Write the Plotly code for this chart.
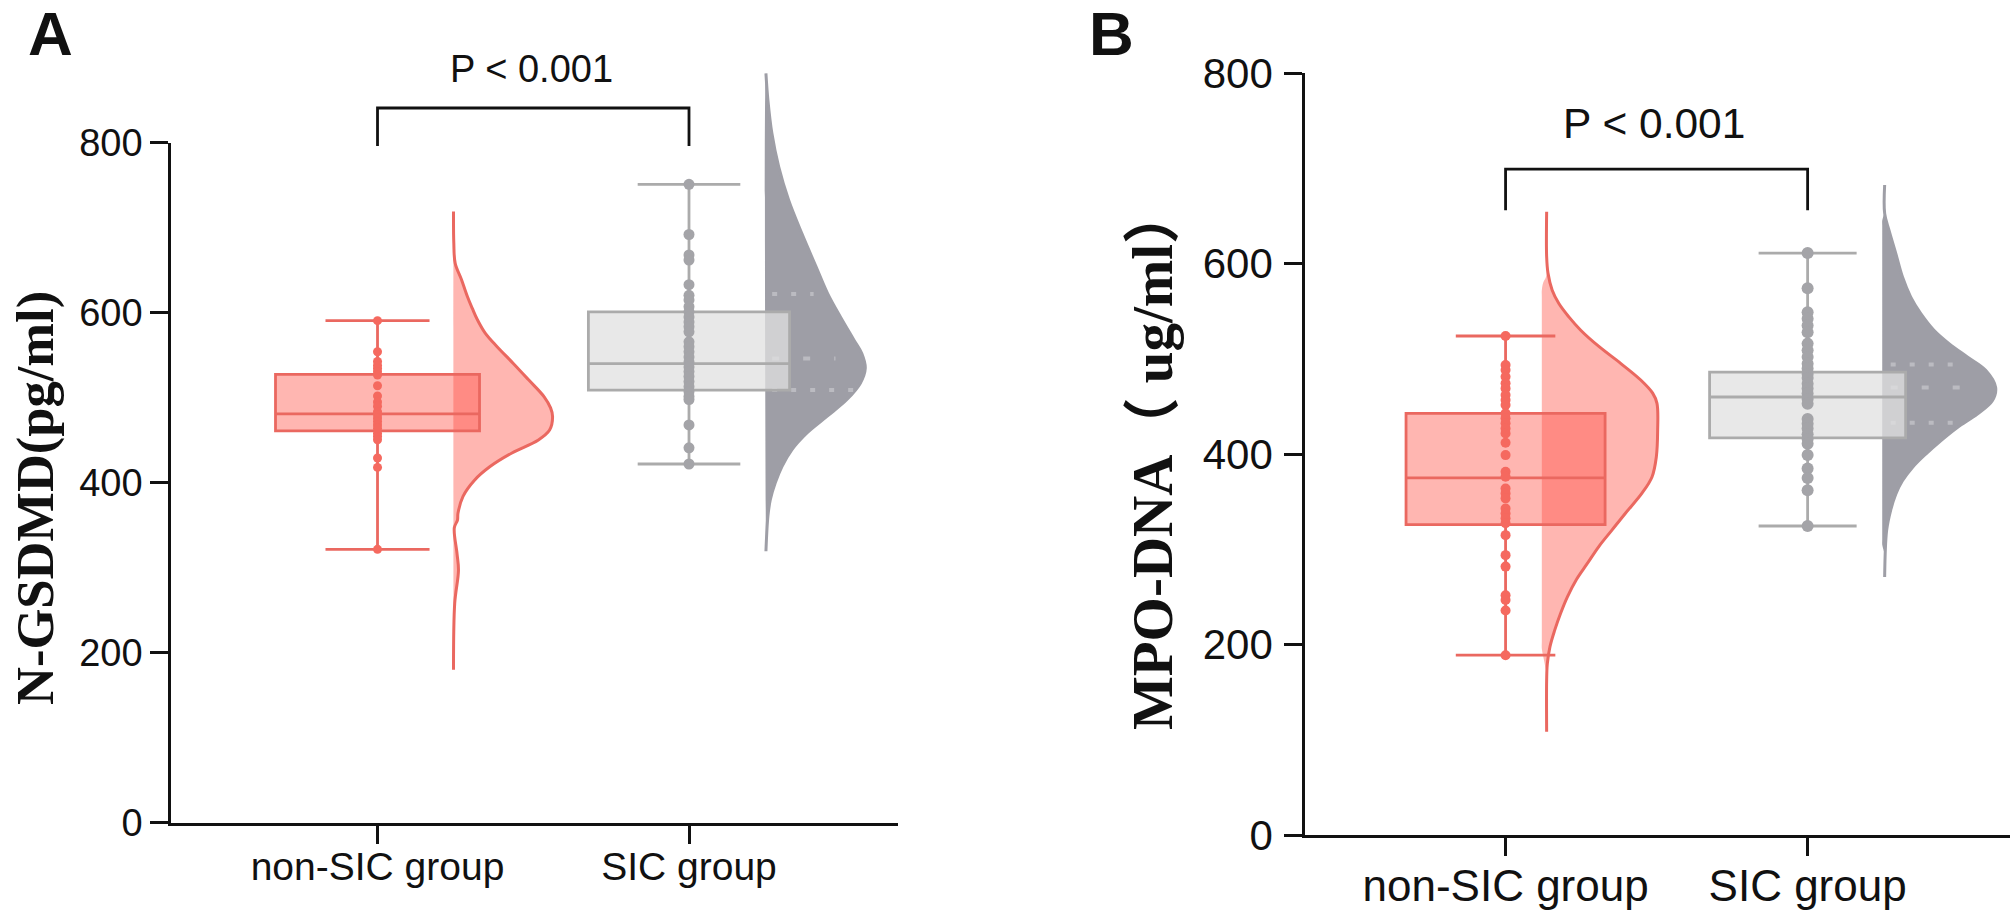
import plotly.graph_objects as go

W, H = 2016, 914
GROUPS = ["non-SIC group", "SIC group"]
Y_TICKS = [0, 200, 400, 600, 800]

# ---------- Panel A: N-GSDMD ----------
A_RED_BOX = dict(low=321.6, q1=461, med=481, q3=527.5, high=590.6)
A_GRAY_BOX = dict(low=422, q1=509, med=540, q3=601, high=751)
A_RED_POINTS = [590.6, 554, 542.7, 538, 534.5, 530.6, 526.7, 514, 502, 495, 490, 483.5, 480, 476, 472, 468, 464,
                458, 454.5, 450.5, 429, 418, 321.6]
A_GRAY_POINTS = [751, 692, 668, 662, 633, 620.5, 615, 607, 601, 595, 589, 583.5, 577.5, 565.8, 560, 554, 548, 542,
                 536, 530.7, 525, 519, 513, 507, 501.5, 497.8, 468, 441, 422]
A_RED_VY = [719, 682, 658, 639, 619, 605, 592, 576, 560, 540, 521, 501, 488, 478, 462, 450, 435, 419, 403, 384, 364,
            356, 347, 317, 297, 258, 180]
A_RED_VD = [0, .003, .017, .08, .14, .19, .24, .32, .44, .606, .758, .915, .98, 1, .97, .853, .59, .369, .212, .096,
            .045, .04, .008, .035, .05, .012, 0]
A_GRAY_VY = [881.6, 850.2, 811, 771.8, 732.6, 693, 654, 622.7, 595, 568, 552, 534.6, 517, 497.8, 478, 458.6, 439,
             419, 399.8, 380, 360.6, 319.4]
A_GRAY_VD = [0, .02, .06, .128, .228, .362, .505, .62, .75, .885, .965, 1, .95, .815, .614, .413, .262, .161, .094,
             .044, .02, 0]
A_GRAY_QY = [622, 546, 509]
A_GRAY_QD = [.48, .70, .88]
A_BRACKET = [796, 840.8, 840.8, 796]

# ---------- Panel B: MPO-DNA ----------
B_RED_BOX = dict(low=189, q1=326, med=375, q3=442.8, high=524)
B_GRAY_BOX = dict(low=324.6, q1=417, med=460, q3=486, high=611)
B_RED_POINTS = [524, 493.5, 488.3, 481.3, 474.4, 469, 462, 456.8, 451.6, 442.8, 437.6, 432.4, 427, 421.8, 412, 399,
                381.5, 376.3, 364, 358.8, 353.6, 343, 337.8, 332.6, 327.4, 315, 294, 282, 252, 247, 236, 189]
B_GRAY_POINTS = [611, 574, 549, 542, 535, 528, 516, 509, 502, 495, 490, 484, 479.8, 474, 469, 463.7, 458, 453, 437,
                 432, 427, 421, 416, 411, 399, 385, 375, 362, 324.6]
B_RED_VY = [654.4, 607, 590, 572, 558, 544, 530, 512.7, 495, 478, 464, 453.3, 425, 397, 376, 359, 338, 320.5, 303,
            285, 268, 250, 233, 215, 198, 180, 163, 108.7]
B_RED_VD = [0, 0, .012, .05, .11, .20, .307, .473, .669, .845, .955, .994, 1, .988, .949, .859, .71, .59, .47, .365,
            .266, .186, .126, .072, .03, .006, 0, 0]
B_RED_LEFT_Y = [654.4, 600, 590, 585, 580, 572, 565, 210, 203, 196, 185, 175, 170, 160, 108.7]
B_RED_LEFT_D = [0, 0, 0, .2, .7, 1, 1, 1, 1, 1, .6, .2, 0, 0, 0]
B_GRAY_VY = [682.4, 652.6, 635, 610.6, 586, 565, 547.7, 530, 516, 502, 488, 470, 456, 442, 428, 414, 400, 386, 372,
             358, 341, 320, 271]
B_GRAY_VD = [0, 0, .039, .10, .16, .234, .324, .444, .58, .745, .91, 1, .97, .835, .655, .505, .37, .25, .16, .10,
             .054, .018, 0]
B_GRAY_LEFT_Y = [682.4, 660, 655, 650, 645, 640, 315, 310, 305, 300, 295, 285, 271]
B_GRAY_LEFT_D = [0, 0, 0, .5, 1, 1, 1, 1, 1, .5, 0, 0, 0]
B_GRAY_QY = [494, 470, 433]
B_GRAY_QD = [.71, .80, .67]
B_BRACKET = [656, 699, 699, 656]

RED_LINE, RED_POINT = "#EA6860", "#F5695F"
RED_FILL = "rgba(255,80,70,0.42)"
GRAY_LINE, GRAY_POINT, GRAY_VIOLIN = "#ABABAB", "#A4A4A8", "#9E9EA6"
GRAY_BOX_FILL = "rgba(224,224,224,0.75)"
SANS, SERIF = "Liberation Sans", "Liberation Serif"

fig = go.Figure()


def violin(xa, ya, center, offset, width, vy, vd, fill, line, left_y=None, left_d=None, inset=0.0):
    base = center + offset
    right = [base + width * d for d in vd]
    if left_y is None:
        left_y, left_d = [vy[0], vy[-1]], [0, 0]
    left = [base - inset * d for d in left_d]
    fig.add_trace(go.Scatter(x=right + left[::-1], y=list(vy) + list(left_y)[::-1], mode="lines", fill="toself",
                             fillcolor=fill, line=dict(width=0, shape="spline", smoothing=1.0), hoverinfo="skip",
                             showlegend=False, xaxis=xa, yaxis=ya))
    fig.add_trace(go.Scatter(x=right, y=vy, mode="lines", line=dict(color=line, width=3, shape="spline", smoothing=1.0),
                             hoverinfo="skip", showlegend=False, xaxis=xa, yaxis=ya))


def quartiles(xa, ya, center, offset, width, qy, qd):
    base = center + offset
    dashes = ["5px,14px", "7px,24px", "5px,14px"]
    for y, d, dash in zip(qy, qd, dashes):
        fig.add_trace(go.Scatter(x=[base + 0.02, base + width * d], y=[y, y], mode="lines",
                                 line=dict(color="rgba(255,255,255,0.30)", width=4, dash=dash),
                                 hoverinfo="skip", showlegend=False, xaxis=xa, yaxis=ya))


def box(xa, ya, pos, stats, width, whisker, fill, line):
    fig.add_trace(go.Box(x=[pos], q1=[stats["q1"]], median=[stats["med"]], q3=[stats["q3"]],
                         lowerfence=[stats["low"]], upperfence=[stats["high"]], width=width, whiskerwidth=whisker,
                         fillcolor=fill, line=dict(color=line, width=2.8), boxpoints=False, showlegend=False,
                         hoverinfo="skip", xaxis=xa, yaxis=ya))


def points(xa, ya, pos, vals, color, size):
    fig.add_trace(go.Scatter(x=[pos] * len(vals), y=vals, mode="markers",
                             marker=dict(color=color, size=size, line=dict(width=0)), hoverinfo="skip",
                             showlegend=False, xaxis=xa, yaxis=ya))


def bracket(xa, ya, vals):
    fig.add_trace(go.Scatter(x=[1, 1, 2, 2], y=vals, mode="lines", line=dict(color="#111111", width=2.8),
                             hoverinfo="skip", showlegend=False, xaxis=xa, yaxis=ya))


# Hidden tall subplots (x/y, x2/y2) hold distributions and brackets, which rise above the 800 tick.
# Visible subplots (x3/y3, x4/y4) are drawn later, so boxes and points sit on top.
violin("x", "y", 1, .244, .318, A_RED_VY, A_RED_VD, RED_FILL, RED_LINE)
violin("x", "y", 2, .247, .319, A_GRAY_VY, A_GRAY_VD, GRAY_VIOLIN, GRAY_VIOLIN)
quartiles("x", "y", 2, .247, .319, A_GRAY_QY, A_GRAY_QD)
bracket("x", "y", A_BRACKET)
box("x3", "y3", 1, A_RED_BOX, .655, .51, RED_FILL, RED_LINE)
box("x3", "y3", 2, A_GRAY_BOX, .646, .51, GRAY_BOX_FILL, GRAY_LINE)
points("x3", "y3", 1, A_RED_POINTS, RED_POINT, 9)
points("x3", "y3", 2, A_GRAY_POINTS, GRAY_POINT, 11)

violin("x2", "y2", 1, .136, .3675, B_RED_VY, B_RED_VD, RED_FILL, RED_LINE, B_RED_LEFT_Y, B_RED_LEFT_D, .016)
violin("x2", "y2", 2, .255, .3675, B_GRAY_VY, B_GRAY_VD, GRAY_VIOLIN, GRAY_VIOLIN, B_GRAY_LEFT_Y, B_GRAY_LEFT_D, .008)
quartiles("x2", "y2", 2, .255, .3675, B_GRAY_QY, B_GRAY_QD)
bracket("x2", "y2", B_BRACKET)
box("x4", "y4", 1, B_RED_BOX, .659, .5, RED_FILL, RED_LINE)
box("x4", "y4", 2, B_GRAY_BOX, .649, .5, GRAY_BOX_FILL, GRAY_LINE)
points("x4", "y4", 1, B_RED_POINTS, RED_POINT, 10)
points("x4", "y4", 2, B_GRAY_POINTS, GRAY_POINT, 12)


def xax(dom, rng, size, standoff, anchor):
    return dict(domain=dom, range=rng, tickmode="array", tickvals=[1, 2], ticktext=GROUPS, showgrid=False,
                zeroline=False, showline=True, linecolor="#111111", linewidth=3, ticks="outside", ticklen=18,
                tickwidth=2.5, tickcolor="#111111", tickfont=dict(family=SANS, size=size, color="#111111"),
                ticklabelstandoff=standoff, anchor=anchor)


def yax(dom, anchor, size, standoff):
    return dict(domain=dom, range=[0, 800], tickmode="array", tickvals=Y_TICKS, ticktext=[str(t) for t in Y_TICKS],
                showgrid=False, zeroline=False, showline=True, linecolor="#111111", linewidth=2.6, ticks="outside",
                ticklen=18, tickwidth=2.5, tickcolor="#111111", anchor=anchor,
                tickfont=dict(family=SANS, size=size, color="#111111"), ticklabelstandoff=standoff)


def hidden(dom, rng, anchor):
    return dict(domain=dom, range=rng, visible=False, anchor=anchor)


A_X, A_Y = [171 / W, 898 / W], [1 - 822.7 / H, 1 - 142.7 / H]
B_X, B_Y = [1305 / W, 2010 / W], [1 - 835.3 / H, 1 - 73 / H]
A_RNG, B_RNG = [0.337, 2.671], [0.336, 2.670]
A_TALL, B_TALL = [1 - 822.7 / H, 1], [1 - 835.3 / H, 1]
A_TALL_RNG, B_TALL_RNG = [0, 822.7 / 0.85], [0, 835.3 / 0.953]


def note(text, x, y, size, family=SANS, bold=False, angle=0):
    return dict(text=f"<b>{text}</b>" if bold else text, x=x / W, y=1 - y / H, xref="paper", yref="paper",
                xanchor="center", yanchor="middle", showarrow=False, textangle=angle,
                font=dict(family=family, size=size, color="#111111"))


fig.update_layout(
    width=W, height=H, margin=dict(l=0, r=0, t=0, b=0, autoexpand=False), paper_bgcolor="white",
    plot_bgcolor="rgba(0,0,0,0)", showlegend=False, boxmode="overlay",
    xaxis=hidden(A_X, A_RNG, "y"), yaxis=hidden(A_TALL, A_TALL_RNG, "x"),
    xaxis2=hidden(B_X, B_RNG, "y2"), yaxis2=hidden(B_TALL, B_TALL_RNG, "x2"),
    xaxis3=xax(A_X, A_RNG, 39, -11, "y3"), yaxis3=yax(A_Y, "x3", 38, 0),
    xaxis4=xax(B_X, B_RNG, 44, -8, "y4"), yaxis4=yax(B_Y, "x4", 42, 3),
    annotations=[
        note("A", 50, 33, 62, bold=True),
        note("B", 1111, 33, 62, bold=True),
        note("P &lt; 0.001", 531, 69, 38),
        note("P &lt; 0.001", 1654, 124, 42.5),
        note("N-GSDMD(pg/ml)", 35, 498, 52.5, family=SERIF, bold=True, angle=-90),
        note("MPO-DNA（ ug/ml）", 1153, 459, 57, family=SERIF + ", 'Noto Sans CJK SC'", bold=True, angle=-90),
    ],
)

fig.write_html("out.html", config=dict(displayModeBar=False),
               post_script="document.body.style.margin='0';")
